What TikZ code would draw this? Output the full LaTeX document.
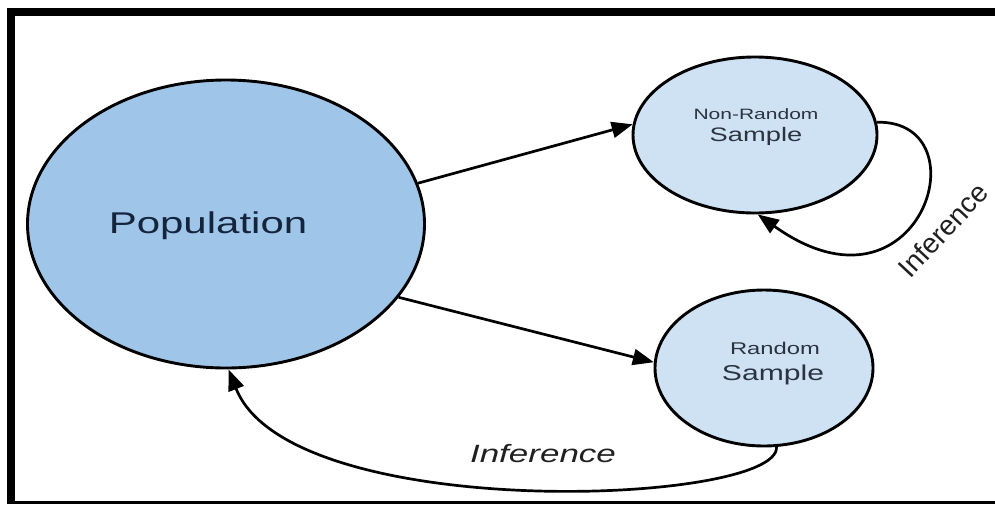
\documentclass[tikz,border=0pt]{standalone}
\usepackage{fontspec}
\setmainfont{Liberation Sans}
\usetikzlibrary{arrows.meta,shapes.geometric}
\definecolor{popfill}{HTML}{9FC5E8}
\definecolor{smpfill}{HTML}{CFE2F3}
\definecolor{popink}{HTML}{14243D}
\definecolor{smpink}{HTML}{2B3340}
\definecolor{lblink}{HTML}{202020}
\begin{document}
\begin{tikzpicture}[x=1pt,y=-1pt,
  blob/.style={ellipse, draw=black, line width=2.9pt, inner sep=0pt},
  link/.style={line width=2.7pt, -{Triangle[length=21pt,width=16pt]}},
  lbl/.style={xscale=1.4, inner sep=0pt, anchor=base},
]
\useasboundingbox (0,0) rectangle (995,504);
% heavy frame on the top, left and bottom edges
\fill[black] (7,8) rectangle (995,16);
\fill[black] (7,8) rectangle (15,504);
\fill[black] (7,501) rectangle (995,504);

% the three sets
\node[blob, fill=popfill, minimum width=397pt, minimum height=288pt] (pop) at (226,224) {};
\node[blob, fill=smpfill, minimum width=244pt, minimum height=156pt] (nrs) at (755,135) {};
\node[blob, fill=smpfill, minimum width=218pt, minimum height=156pt] (rs) at (764,368) {};

% their captions
\node[lbl, text=popink, font=\fontsize{30}{36}\selectfont] (poptxt) at (208,233) {Population};
\node[lbl, text=smpink, font=\fontsize{15}{18}\selectfont] (nrsA) at (756,119) {Non-Random};
\node[lbl, text=smpink, font=\fontsize{19.5}{23}\selectfont] (nrsB) at (756,141) {Sample};
\node[lbl, text=smpink, font=\fontsize{17}{20}\selectfont] (rsA) at (775,354) {Random};
\node[lbl, text=smpink, font=\fontsize{21.5}{26}\selectfont] (rsB) at (773,380) {Sample};

% sampling arrows
\draw[link] (pop.12.6) -- (nrs.175);
\draw[link] (pop.-23.6) -- (rs.177);

% inference arrows
\draw[link] (nrs.6) .. controls (985,120) and (920,330) .. (nrs.-88);
\draw[link] (rs.-81) .. controls (780,505) and (290,525) .. (pop.-89);

\node[lbl, text=lblink, font=\fontsize{25}{30}\selectfont\itshape] (infA) at (543,462) {Inference};
\node[rotate=47, inner sep=0pt, text=lblink, font=\fontsize{28}{32}\selectfont] (infB) at (943,230) {Inference};
\end{tikzpicture}
\end{document}
